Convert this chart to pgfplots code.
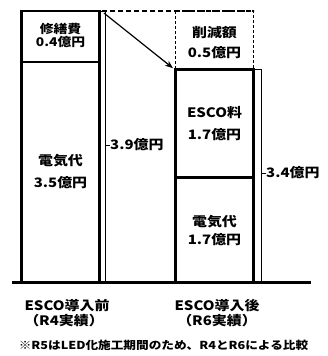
\documentclass[border=0pt]{standalone}
\usepackage{pgfplots}
\pgfplotsset{compat=1.18}
\usepackage{fontspec}
\usetikzlibrary{arrows.meta}
\newfontfamily\cjk[FakeStretch=1.15]{Noto Sans CJK JP}
\newcommand\fs[1]{\fontsize{#1}{#1}\selectfont}
\tikzset{t/.style={font=\cjk\bfseries\fs{13}, inner sep=0pt}}
\begin{document}
\begin{tikzpicture}
\begin{axis}[scale only axis, width=327pt, height=356pt, xmin=0, xmax=327, ymin=-1.047, ymax=4.058, hide axis, clip=false, ybar stacked, bar width=78]
\addplot[fill=white, draw=black, line width=2.6pt] coordinates {(60.5,3.17) (214.5,1.51)};
\addplot[fill=white, draw=black, line width=2.6pt] coordinates {(60.5,0.73) (214.5,1.55)};
\addplot[fill=white, draw=black, line width=1.4pt, dash pattern=on 3pt off 2pt] coordinates {(60.5,0) (214.5,0.84)};
\coordinate (bl) at (rel axis cs:0,0);
\coordinate (tr) at (rel axis cs:1,1);
\end{axis}
\begin{axis}[scale only axis, width=327pt, height=356pt, xmin=0, xmax=327, ymin=-1.047, ymax=4.058, hide axis, clip=false]
\addplot[line width=0.9pt] coordinates {(100,3.9) (105,3.9) (105,0)};
\addplot[line width=0.9pt] coordinates {(105,1.979) (110,1.979)};
\addplot[line width=0.9pt] coordinates {(253,3.06) (261,3.06) (261,0)};
\addplot[line width=0.9pt] coordinates {(261,1.577) (266,1.577)};
\addplot[line width=2.2pt, dash pattern=on 5pt off 3pt] coordinates {(102,3.9) (254,3.9)};
\addplot[line width=1.2pt, -{Stealth[length=8pt,width=6pt]}] coordinates {(104,3.87) (173,3.08)};
\addplot[line width=3pt] coordinates {(12,0) (311,0)};
\node[t, font=\cjk\bfseries\fs{12}] at (axis cs:60.5,3.642) {修繕費};
\node[t, font=\cjk\bfseries\fs{12}] at (axis cs:60.5,3.456) {0.4億円};
\node[t] at (axis cs:60.5,1.749) {電気代};
\node[t] at (axis cs:60.5,1.441) {3.5億円};
\node[t, anchor=west] at (axis cs:110,1.979) {3.9億円};
\node[t] at (axis cs:214.5,3.585) {削減額};
\node[t] at (axis cs:214.5,3.305) {0.5億円};
\node[t] at (axis cs:214.5,2.438) {ESCO料};
\node[t] at (axis cs:214.5,2.122) {1.7億円};
\node[t] at (axis cs:214.5,0.875) {電気代};
\node[t] at (axis cs:214.5,0.617) {1.7億円};
\node[t, anchor=west] at (axis cs:266,1.577) {3.4億円};
\node[t] at (axis cs:67,-0.330) {ESCO導入前};
\node[t] at (axis cs:64,-0.545) {（R4実績）};
\node[t] at (axis cs:217,-0.330) {ESCO導入後};
\node[t] at (axis cs:217,-0.545) {（R6実績）};
\node[t, font=\cjk\bfseries\fs{11}] at (axis cs:163.5,-0.889) {※R5はLED化施工期間のため、R4とR6による比較};
\end{axis}
\pgfresetboundingbox
\path (bl) rectangle (tr);
\end{tikzpicture}
\end{document}
